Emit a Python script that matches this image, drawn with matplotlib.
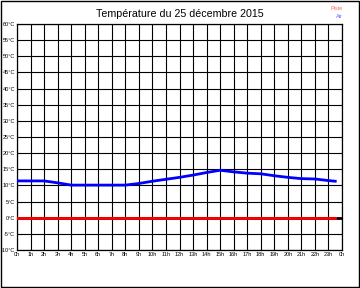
import matplotlib
matplotlib.use('Agg')
import matplotlib.pyplot as plt
from matplotlib.patches import Rectangle

plt.rcParams['font.family'] = ['Liberation Sans', 'DejaVu Sans']

# heures et températures relevées
heures = [0, 1, 2, 3, 4, 5, 6, 7, 8, 9, 10, 11, 12, 13, 14, 15, 16, 17, 18, 19, 20, 21, 22, 23, 23.5]
air = [11.4, 11.4, 11.4, 10.8, 10.1, 10.1, 10.1, 10.1, 10.1, 10.6, 11.3, 11.9, 12.5, 13.2,
       14.0, 14.7, 14.2, 13.8, 13.6, 13.0, 12.5, 12.1, 12.0, 11.5, 11.3]
piste = [0.0] * len(heures)

yticks = list(range(-10, 61, 5))
ylabels = ['%d°C' % t for t in yticks]
xticks = list(range(0, 25))
xlabels = ['%dh' % (h % 24) for h in xticks]

fig = plt.figure(figsize=(3.6, 2.88), dpi=100)
ax = fig.add_axes([17/360, 1 - 250/288, 325/360, 226/288])

ax.set_xlim(0, 24)
ax.set_ylim(-10, 60)
ax.set_xticks(xticks)
ax.set_xticklabels(xlabels, fontsize=4)
ax.set_yticks(yticks)
ax.set_yticklabels(ylabels, fontsize=4)
ax.tick_params(length=0, pad=1.5)
ax.grid(True, color='black', linewidth=0.8)
for s in ax.spines.values():
    s.set_linewidth(0.9)

ax.axhline(0, color='black', linewidth=2, zorder=2)
ax.plot(heures, piste, color='#ff0000', linewidth=2, zorder=3)
ax.plot(heures, air, color='#0000ff', linewidth=2, zorder=3)

fig.text(0.5, 1 - 14/288, 'Température du 25 décembre 2015', ha='center', va='center', fontsize=7.7)
fig.text(343/360, 1 - 8/288, 'Piste', ha='right', va='center', fontsize=4, color='#ff6666')
fig.text(343/360, 1 - 16/288, 'Air', ha='right', va='center', fontsize=4, color='#6666ff')

fig.patches.append(Rectangle((1/360, 1/288), 358/360, 286/288, transform=fig.transFigure,
                             fill=False, edgecolor='black', linewidth=1))

fig.savefig('out.png', dpi=100)
